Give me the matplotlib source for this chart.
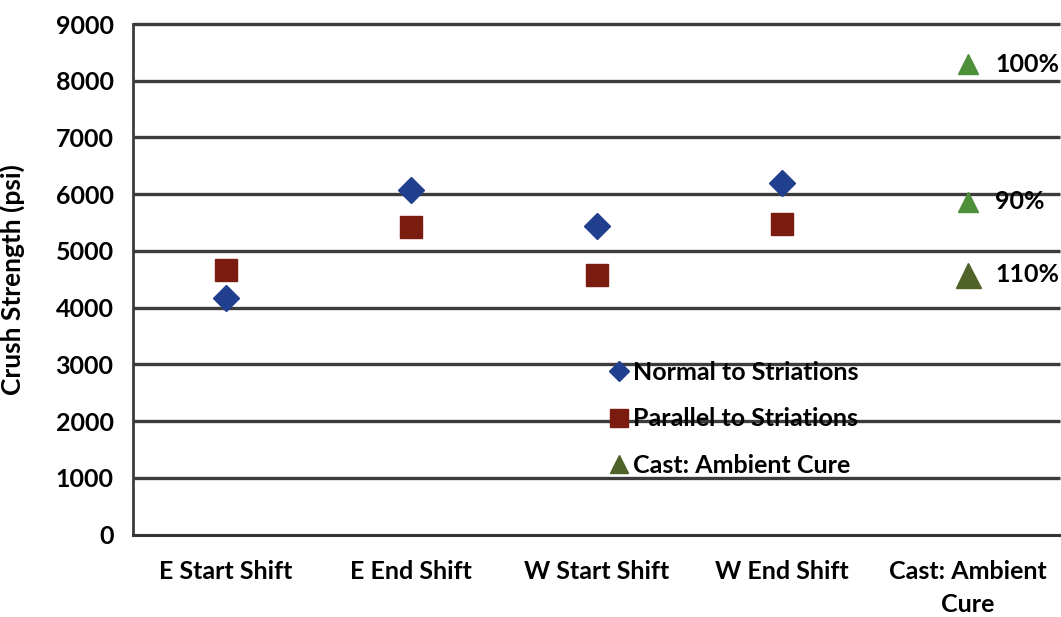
import numpy as np
import matplotlib
matplotlib.use("Agg")
import matplotlib.pyplot as plt
from matplotlib.lines import Line2D

plt.rcParams["font.family"] = ["Lato", "DejaVu Sans"]
plt.rcParams["font.weight"] = "bold"

# ── Data ─────────────────────────────────────────────────────────────────────
categories = ["E Start Shift", "E End Shift", "W Start Shift",
              "W End Shift", "Cast: Ambient\nCure"]
normal   = [4165, 6075, 5445, 6205]        # Normal to Striations
parallel = [4660, 5430, 4580, 5475]        # Parallel to Striations
cast_vals   = [8290, 5870, 4575]           # Cast: Ambient Cure
cast_labels = ["100%", "90%", "110%"]
yticks = [0, 1000, 2000, 3000, 4000, 5000, 6000, 7000, 8000, 9000]

# ── Style ────────────────────────────────────────────────────────────────────
C_NORM  = "#213f8f"
C_PAR   = "#7a1c10"
C_GREEN = "#4e8f3a"
C_OLIVE = "#4f6228"
C_GRID  = "#3c3c3c"
FS = 18

cast_colors = [C_GREEN, C_GREEN, C_OLIVE]
cast_ms     = [14, 14, 18]

fig = plt.figure(figsize=(10.61, 6.17), dpi=100)
ax = fig.add_axes([0.1254, 0.1337, 0.874, 0.8274])

x = np.arange(len(categories)) + 0.5
n = len(categories)

# horizontal gridlines at every y tick
for yv in yticks[1:]:
    ax.plot([0, n], [yv, yv], "-", color=C_GRID, linewidth=2.4,
            solid_capstyle="butt", zorder=2.6, clip_on=False)

ax.plot(x[:4], normal, "D", ms=13, color=C_NORM, zorder=3)
ax.plot(x[:4], parallel, "s", ms=16, color=C_PAR, zorder=3)
for v, lab, c, m in zip(cast_vals, cast_labels, cast_colors, cast_ms):
    ax.plot(x[4], v, "^", ms=m, color=c, zorder=3)
    ax.annotate(lab, (x[4], v), xytext=(20, 0), textcoords="offset points",
                va="center", ha="left", fontsize=FS, fontweight="bold")

ax.set_xlim(0, n)
ax.set_ylim(0, 9000)
ax.set_yticks(yticks)
ax.set_xticks(x)
ax.set_xticklabels(categories, fontsize=FS, fontweight="bold",
                   linespacing=1.55)
ax.tick_params(axis="y", labelsize=FS, length=0, pad=14)
ax.tick_params(axis="x", length=0, pad=18)
for s in ["top", "right"]:
    ax.spines[s].set_visible(False)
ax.spines["left"].set_color(C_GRID)
ax.spines["left"].set_linewidth(2.0)
ax.spines["bottom"].set_color("#333333")
ax.spines["bottom"].set_linewidth(2.2)

ax.set_ylabel("Crush Strength (psi)", fontsize=19, fontweight="bold")
ax.yaxis.set_label_coords(-0.1165, 0.5)

handles = [
    Line2D([], [], ls="none", marker="D", ms=10, color=C_NORM),
    Line2D([], [], ls="none", marker="s", ms=13, color=C_PAR),
    Line2D([], [], ls="none", marker="^", ms=13, color=C_OLIVE),
]
ax.legend(handles, ["Normal to Striations", "Parallel to Striations",
                    "Cast: Ambient Cure"],
          loc="upper left", bbox_to_anchor=(0.503, 0.36), frameon=False,
          fontsize=FS, handlelength=0.8, handletextpad=0.15,
          labelspacing=0.95, borderaxespad=0)

fig.savefig("out.png", dpi=100)
